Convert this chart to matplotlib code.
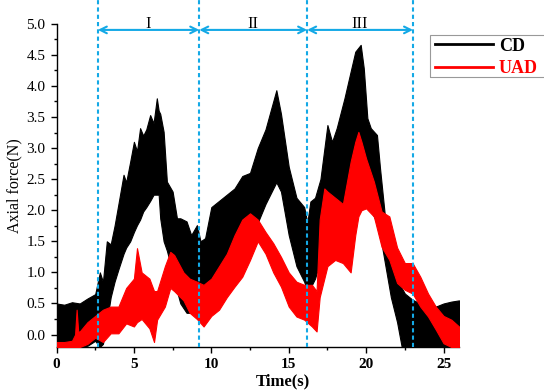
import matplotlib
matplotlib.use("Agg")
import matplotlib.pyplot as plt
from matplotlib.patches import Rectangle
from matplotlib.ticker import MultipleLocator, FormatStrFormatter

# ---- data ----
cd_t = [0, 0.5, 1, 1.5, 2, 2.5, 2.8, 3, 3.25, 3.5, 3.75, 4, 4.33, 4.5, 4.76, 5, 5.2, 5.4,
        5.6, 5.8, 6.05, 6.27, 6.48, 6.6, 6.7, 6.92, 7.13, 7.5, 7.78, 8, 8.4, 8.7, 9.07, 9.3,
        9.6, 10, 10.5, 11, 11.5, 12, 12.5, 13, 13.5, 14, 14.2, 14.5, 15, 15.5, 16, 16.2,
        16.4, 16.7, 17.05, 17.5, 17.8, 18.1, 18.6, 19, 19.3, 19.65, 19.85, 20.08, 20.3,
        20.7, 20.9, 21.25, 21.6, 22, 22.3, 22.5, 23, 23.5, 24, 24.5, 25, 25.5, 26]
cd_hi = [0.50, 0.48, 0.52, 0.50, 0.58, 0.65, 1.00, 0.85, 1.50, 1.45, 1.75, 2.10, 2.57, 2.45,
         2.78, 3.10, 2.95, 3.32, 3.20, 3.30, 3.53, 3.40, 3.80, 3.60, 3.55, 3.26, 2.46, 2.30,
         1.87, 1.87, 1.82, 1.60, 1.76, 1.50, 1.55, 2.05, 2.15, 2.25, 2.35, 2.55, 2.60, 3.00,
         3.30, 3.75, 3.93, 3.55, 2.70, 2.20, 2.05, 1.80, 2.14, 2.20, 2.50, 3.37, 3.10, 3.32,
         3.80, 4.23, 4.55, 4.66, 4.28, 3.48, 3.32, 3.21, 2.67, 1.82, 1.44, 0.90, 0.75, 0.66,
         0.56, 0.50, 0.50, 0.45, 0.50, 0.53, 0.55]
cd_lo = [-0.20, -0.20, -0.20, -0.20, -0.18, -0.10, -0.20, -0.15, 0.20, 0.60, 0.85, 1.05,
         1.30, 1.40, 1.50, 1.65, 1.76, 1.85, 1.98, 2.05, 2.15, 2.25, 2.25, 2.25, 1.87, 1.50,
         1.35, 1.00, 0.70, 0.50, 0.35, 0.35, 0.40, 0.60, 0.70, 0.70, 0.85, 1.10, 1.50, 1.75,
         1.90, 1.80, 2.10, 2.35, 2.45, 2.30, 1.60, 1.10, 0.85, 0.70, 0.75, 0.90, 1.20, 1.50,
         1.55, 1.60, 1.60, 1.80, 2.20, 2.20, 2.20, 2.10, 2.00, 1.80, 1.60, 1.10, 0.60, 0.20,
         -0.20, -0.20, -0.20, -0.20, -0.20, -0.20, -0.20, -0.20, -0.20]

uad_t = [0, 0.5, 1, 1.2, 1.3, 1.4, 1.5, 2, 2.5, 3, 3.5, 4, 4.5, 5, 5.2, 5.5, 6, 6.3, 6.5, 7,
         7.35, 7.6, 8.2, 8.6, 9.07, 9.5, 10, 10.5, 11, 11.5, 12, 12.5, 13, 13.5, 14, 14.5,
         15, 15.5, 16, 16.5, 16.8, 17, 17.3, 17.5, 18, 18.5, 19, 19.3, 19.5, 19.7, 20, 20.5,
         21, 21.5, 22, 22.5, 23, 23.5, 24, 24.5, 25, 25.5, 26]
uad_hi = [-0.12, -0.12, -0.10, 0.00, 0.40, 0.05, 0.05, 0.20, 0.30, 0.40, 0.45, 0.45, 0.75,
          0.90, 1.39, 1.00, 0.90, 0.70, 0.70, 1.10, 1.33, 1.28, 1.00, 0.90, 0.85, 0.80, 0.90,
          1.10, 1.30, 1.60, 1.85, 1.95, 1.85, 1.65, 1.47, 1.25, 1.00, 0.85, 0.80, 0.80, 0.70,
          1.85, 2.35, 2.30, 2.20, 2.10, 2.78, 3.10, 3.26, 3.10, 2.83, 2.46, 1.98, 1.90, 1.40,
          1.15, 1.15, 0.93, 0.66, 0.45, 0.30, 0.24, 0.13]
uad_lo = [-0.20, -0.20, -0.20, -0.20, -0.20, -0.20, -0.20, -0.15, -0.05, -0.12, 0.02, 0.02,
          0.18, 0.13, 0.20, 0.25, 0.10, -0.12, 0.24, 0.45, 0.75, 0.70, 0.55, 0.35, 0.25, 0.13,
          0.30, 0.40, 0.60, 0.77, 0.93, 1.20, 1.50, 1.30, 1.00, 0.77, 0.45, 0.29, 0.24, 0.13,
          0.05, 0.60, 0.90, 1.10, 1.20, 1.15, 1.00, 1.60, 1.90, 2.00, 2.03, 1.90, 1.41, 1.20,
          0.83, 0.72, 0.66, 0.45, 0.29, 0.08, -0.14, -0.20, -0.20]

region_bounds = [2.67, 9.22, 16.19, 23.03]
region_labels = ["I", "II", "III"]
series_names = ["CD", "UAD"]

# ---- style ----
plt.rcParams['font.family'] = ['Liberation Serif', 'DejaVu Serif']
blue = '#14a9e6'

fig = plt.figure(figsize=(5.44, 3.92), dpi=100)
ax = fig.add_axes([56.5/544, 1-347/392, (459-56.5)/544, (347-23.7)/392])

ax.fill_between(cd_t, cd_lo, cd_hi, color='black', lw=0.8, zorder=2)
l1, = ax.plot([], [], color='black', lw=2, label=series_names[0])
ax.fill_between(uad_t, uad_lo, uad_hi, color='red', lw=0.8, zorder=3)
l2, = ax.plot([], [], color='red', lw=2, label=series_names[1])

ax.set_xlim(0, 26)
ax.set_ylim(-0.2, 5.0)

# region dashed lines and arrows
for xb in region_bounds:
    ax.plot([xb, xb], [-0.2, 5.45], color=blue, lw=1.5, ls=(0, (2, 1.5)),
            clip_on=False, zorder=5)
for i, lab in enumerate(region_labels):
    a, b = region_bounds[i], region_bounds[i+1]
    ax.annotate('', xy=(a, 4.90), xytext=(b, 4.90),
                arrowprops=dict(arrowstyle='<->', color=blue, lw=1.5,
                                shrinkA=0, shrinkB=0, mutation_scale=12),
                annotation_clip=False, zorder=6)
    ax.text((a+b)/2, 4.93, lab, ha='center', va='baseline', fontsize=12,
            clip_on=False)

for s in ['top', 'right']:
    ax.spines[s].set_visible(False)
for s in ['left', 'bottom']:
    ax.spines[s].set_linewidth(1.0)

ax.xaxis.set_major_locator(MultipleLocator(5))
ax.xaxis.set_minor_locator(MultipleLocator(2.5))
ax.yaxis.set_major_locator(MultipleLocator(0.5))
ax.yaxis.set_minor_locator(MultipleLocator(0.25))
ax.yaxis.set_major_formatter(FormatStrFormatter('%.1f'))
ax.tick_params(which='major', direction='out', length=4.5, width=1, labelsize=11)
ax.tick_params(which='minor', direction='out', length=2.5, width=1)
for lbl in ax.get_xticklabels():
    lbl.set_fontweight('bold')

ax.set_xlabel('Time(s)', fontsize=12, fontweight='bold', labelpad=2)
ax.xaxis.label.set_x(0.563)
ax.set_ylabel('Axial force(N)', fontsize=11.5, labelpad=3)

# legend (frame drawn separately so it runs past the right edge as in the reference)
leg = fig.legend(handles=[l1, l2], loc='upper left',
                 bbox_to_anchor=(433/544, 1-36/392), frameon=False,
                 prop=dict(weight='bold', size=13), handlelength=3.2,
                 handletextpad=0.35, labelspacing=0.28, borderpad=0.1,
                 borderaxespad=0)
for txt, c in zip(leg.get_texts(), ['black', 'red']):
    txt.set_color(c)
fig.patches.append(Rectangle((430/544, 1-77/392), 130/544, 42/392,
                             transform=fig.transFigure, fill=False,
                             edgecolor='#999999', lw=0.8))

fig.savefig('out.png', dpi=100)
